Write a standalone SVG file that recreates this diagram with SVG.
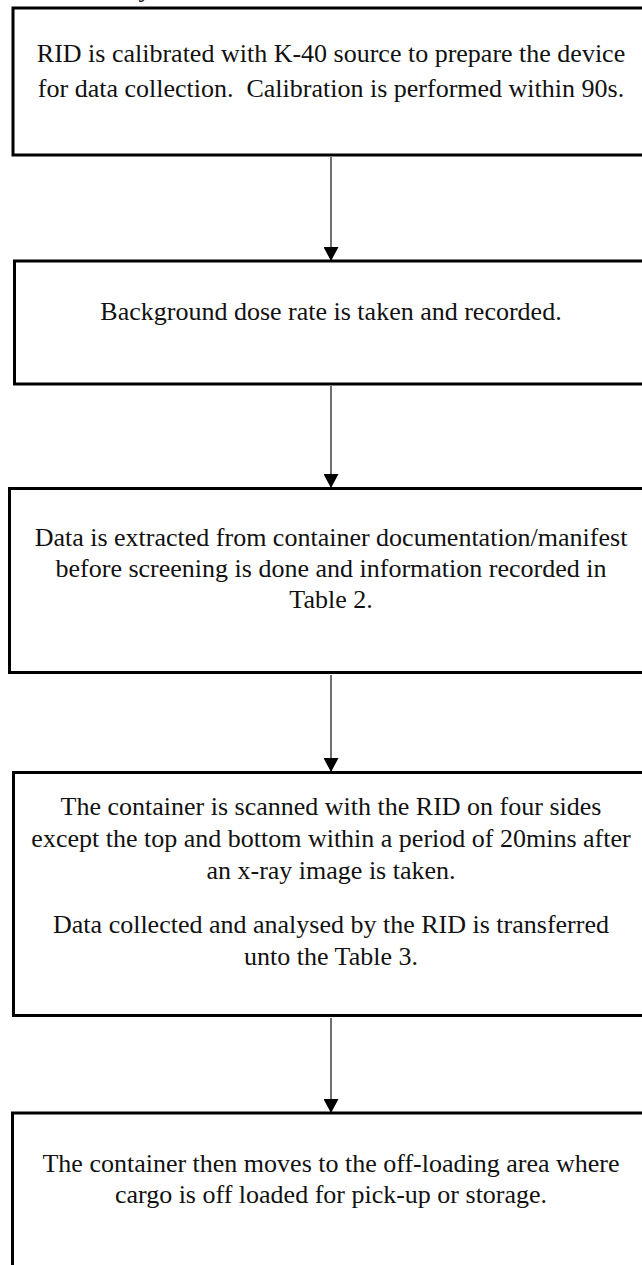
<svg xmlns="http://www.w3.org/2000/svg" width="642" height="1265" viewBox="0 0 642 1265">
  <style>
    .box { fill: #ffffff; stroke: #000000; stroke-width: 3; }
    .label { font-family: "Liberation Serif", "Times New Roman", serif; font-size: 26px; fill: #111111; text-anchor: middle; }
    .edge { stroke: #222222; stroke-width: 1.3; fill: none; marker-end: url(#arrow); }
  </style>
  <defs>
    <marker id="arrow" markerWidth="15" markerHeight="15" refX="14" refY="7.5" orient="auto" markerUnits="userSpaceOnUse">
      <path d="M0,0 L14,7.5 L0,15 Z" fill="#000000"/>
    </marker>
  </defs>
  <rect width="642" height="1265" fill="#ffffff"/>

  <!-- caption fragment above the first step -->
  <text class="label" x="145" y="-3">y</text>

  <g id="connectors">
    <line class="edge" x1="331" y1="157" x2="331" y2="261"/>
    <line class="edge" x1="331" y1="386" x2="331" y2="488"/>
    <line class="edge" x1="331" y1="675" x2="331" y2="772"/>
    <line class="edge" x1="331" y1="1018" x2="331" y2="1113"/>
  </g>

  <g id="step1">
    <rect class="box" x="13" y="8" width="650" height="147"/>
    <text class="label" x="331" y="62">RID is calibrated with K-40 source to prepare the device</text>
    <text class="label" x="331" y="97">for data collection.&#160; Calibration is performed within 90s.</text>
  </g>

  <g id="step2">
    <rect class="box" x="14.5" y="261" width="650" height="123"/>
    <text class="label" x="331" y="320">Background dose rate is taken and recorded.</text>
  </g>

  <g id="step3">
    <rect class="box" x="9.5" y="488.5" width="650" height="184"/>
    <text class="label" x="331" y="546">Data is extracted from container documentation/manifest</text>
    <text class="label" x="331" y="577">before screening is done and information recorded in</text>
    <text class="label" x="331" y="608">Table 2.</text>
  </g>

  <g id="step4">
    <rect class="box" x="13.5" y="772.5" width="650" height="243"/>
    <text class="label" x="331" y="815">The container is scanned with the RID on four sides</text>
    <text class="label" x="331" y="847">except the top and bottom within a period of 20mins after</text>
    <text class="label" x="331" y="879">an x-ray image is taken.</text>
    <text class="label" x="331" y="933">Data collected and analysed by the RID is transferred</text>
    <text class="label" x="331" y="965">unto the Table 3.</text>
  </g>

  <g id="step5">
    <rect class="box" x="12.5" y="1113" width="650" height="200"/>
    <text class="label" x="331" y="1172">The container then moves to the off-loading area where</text>
    <text class="label" x="331" y="1203">cargo is off loaded for pick-up or storage.</text>
  </g>
</svg>
